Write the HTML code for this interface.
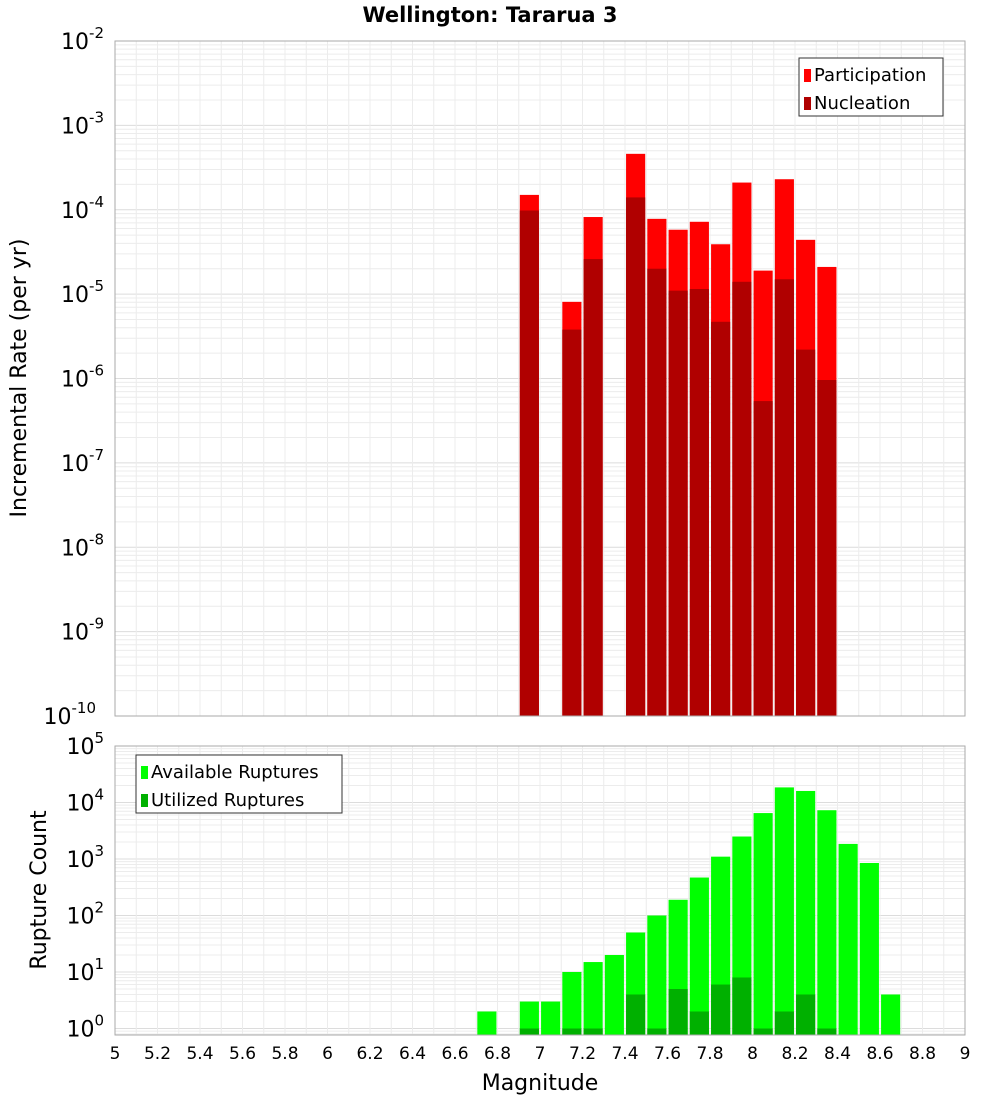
<!DOCTYPE html>
<html><head><meta charset="utf-8"><style>
body{margin:0;background:#fff;font-family:"Liberation Sans","DejaVu Sans",sans-serif}
svg text{font-family:"DejaVu Sans","Liberation Sans",sans-serif}
</style></head><body>
<svg id="c" width="1000" height="1100" xmlns="http://www.w3.org/2000/svg"></svg>
<script>
const binCenters=[6.95,7.15,7.25,7.45,7.55,7.65,7.75,7.85,7.95,8.05,8.15,8.25,8.35];
const participation=[1.5e-4,8.1e-6,8.2e-5,4.6e-4,7.8e-5,5.8e-5,7.2e-5,3.9e-5,2.1e-4,1.9e-5,2.3e-4,4.4e-5,2.1e-5];
const nucleation=[9.8e-5,3.8e-6,2.6e-5,1.4e-4,2.0e-5,1.1e-5,1.15e-5,4.7e-6,1.4e-5,5.4e-7,1.5e-5,2.2e-6,9.6e-7];
const countCenters=[6.75,6.95,7.05,7.15,7.25,7.35,7.45,7.55,7.65,7.75,7.85,7.95,8.05,8.15,8.25,8.35,8.45,8.55,8.65];
const available=[2,3,3,10,15,20,50,100,190,470,1100,2500,6500,18500,16000,7300,1850,850,4];
const utilized=[0,1,0,1,1,0,4,1,5,2,6,8,1,2,4,1,0,0,0];
const xTicks=[5,5.2,5.4,5.6,5.8,6,6.2,6.4,6.6,6.8,7,7.2,7.4,7.6,7.8,8,8.2,8.4,8.6,8.8,9];
const topExps=[-2,-3,-4,-5,-6,-7,-8,-9,-10];
const botExps=[5,4,3,2,1,0];

const svg=document.getElementById('c');const NS='http://www.w3.org/2000/svg';
function el(tag,attrs,parent){const e=document.createElementNS(NS,tag);for(const k in attrs)e.setAttribute(k,attrs[k]);(parent||svg).appendChild(e);return e;}
const X0=115,X1=965;
const x=v=>X0+(v-5)/4*(X1-X0);
const T0=41,T1=716;
const yT=v=>T0+(-2-Math.log10(v))/8*(T1-T0);
const B0=746,B1=1035,BD=56.5;
const yB=v=>B0+(5-Math.log10(v))*BD;

function grid(top,bot,yf,lo,hi){
  for(let e=lo;e<hi;e++)for(let m=1;m<10;m++){const yy=yf(m*Math.pow(10,e));if(yy<top||yy>bot)continue;
    const l=el('line',{x1:X0,x2:X1,y1:yy,y2:yy,stroke:m==1?'#dcdcdc':'#ececec','stroke-width':1});
    }
  for(let v=5;v<=9.001;v+=0.1){const l=el('line',{x1:x(v),x2:x(v),y1:top,y2:bot,stroke:'#ececec'});
    }
}
grid(T0,T1,yT,-10,-2);
grid(B0,B1,yB,-1,5);
const bw=0.09;
function bar(c,v,yf,base,color,name){const y=yf(v);const r=el('rect',{x:x(c-bw/2),y:y,width:x(c+bw/2)-x(c-bw/2),height:base-y,fill:color});
  }
binCenters.forEach((c,i)=>{bar(c,participation[i],yT,T1,'#ff0000','participation-bar');bar(c,nucleation[i],yT,T1,'#b00000','nucleation-bar');});
countCenters.forEach((c,i)=>{if(available[i]>0)bar(c,available[i],yB,B1,'#00ff00','available-bar');if(utilized[i]>0)bar(c,utilized[i],yB,B1,'#00b000','utilized-bar');});
el('rect',{x:X0,y:T0,width:X1-X0,height:T1-T0,fill:'none',stroke:'#aaa'});
el('rect',{x:X0,y:B0,width:X1-X0,height:B1-B0,fill:'none',stroke:'#aaa'});
function pow(xx,yy,e,name){const t=el('text',{x:xx,y:yy,'font-size':22,'text-anchor':'end'});
  t.textContent='10';const s=el('tspan',{dy:-11,'font-size':15},t);s.textContent=e;}
topExps.forEach(e=>pow(e>-10?104:96,yT(Math.pow(10,e))+8,e,'y-tick-label'));
botExps.forEach(e=>pow(e==0?104:104,yB(Math.pow(10,e))+8,e,'count-tick-label'));
xTicks.forEach(v=>{const t=el('text',{x:x(v),y:1059,'font-size':17,'text-anchor':'middle'});t.textContent=String(v);});
function txt(s,attrs,name){const t=el('text',attrs);t.textContent=s;return t;}
txt('Wellington: Tararua 3',{x:490,y:22,'font-size':21,'font-weight':'bold','text-anchor':'middle'},'chart-title');
txt('Magnitude',{x:540,y:1090,'font-size':22,'text-anchor':'middle'},'x-axis-title');
txt('Incremental Rate (per yr)',{x:26,y:378,'font-size':22,'text-anchor':'middle',transform:'rotate(-90 26 378)'},'y-axis-title');
txt('Rupture Count',{x:46,y:890,'font-size':22,'text-anchor':'middle',transform:'rotate(-90 46 890)'},'count-axis-title');
// legends
function legend(lx,ly,w,items,name){const g=el('g',{});
  el('rect',{x:lx,y:ly,width:w,height:58,fill:'#fff',stroke:'#333'},g);
  items.forEach((it,i)=>{el('rect',{x:lx+5,y:ly+11+i*28,width:7,height:13,fill:it[1]},g);
    const t=el('text',{x:lx+15,y:ly+23+i*28,'font-size':18},g);t.textContent=it[0];});}
legend(799,58,144,[['Participation','#ff0000'],['Nucleation','#b00000']],'top-legend');
legend(136,755,206,[['Available Ruptures','#00ff00'],['Utilized Ruptures','#00b000']],'bottom-legend');
</script>
</body></html>
